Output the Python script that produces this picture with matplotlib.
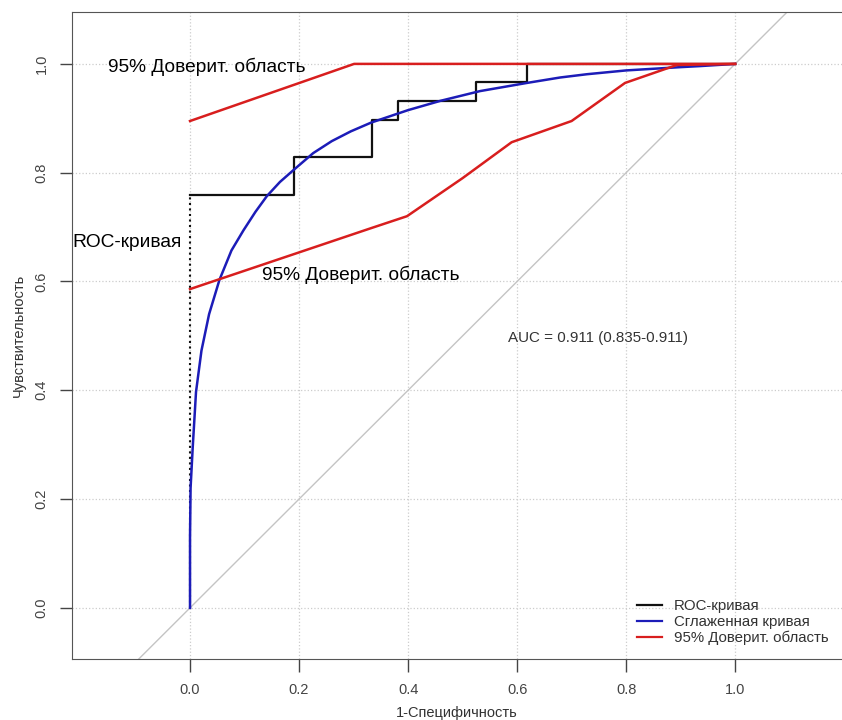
import matplotlib
matplotlib.use("Agg")
import matplotlib.pyplot as plt
from matplotlib.lines import Line2D

plt.rcParams['font.family'] = ['Liberation Sans', 'DejaVu Sans']

# ROC curve (empirical, step)
roc_fpr = [0.0, 0.0, 0.19, 0.19, 0.333, 0.333, 0.381, 0.381, 0.524, 0.524, 0.619, 0.619, 1.0]
roc_tpr = [0.0, 0.759, 0.759, 0.828, 0.828, 0.897, 0.897, 0.931, 0.931, 0.966, 0.966, 1.0, 1.0]

# smoothed curve
smooth_fpr = [0.0, 0.0, 0.001, 0.005, 0.011, 0.021, 0.035, 0.054, 0.076, 0.098, 0.12, 0.141,
              0.165, 0.19, 0.226, 0.26, 0.295, 0.332, 0.40, 0.459, 0.532, 0.618, 0.679,
              0.728, 0.80, 0.899, 0.936, 1.0]
smooth_tpr = [0.0, 0.13, 0.22, 0.296, 0.397, 0.473, 0.54, 0.603, 0.657, 0.694, 0.728, 0.757,
              0.783, 0.805, 0.836, 0.858, 0.876, 0.892, 0.915, 0.932, 0.950, 0.965, 0.975,
              0.981, 0.988, 0.994, 0.996, 1.0]

# 95% confidence band
ci_upper_fpr = [0.0, 0.301, 1.0]
ci_upper_tpr = [0.895, 1.0, 1.0]
ci_lower_fpr = [0.0, 0.332, 0.398, 0.50, 0.59, 0.70, 0.798, 0.893, 1.0]
ci_lower_tpr = [0.586, 0.698, 0.72, 0.79, 0.856, 0.895, 0.965, 0.998, 1.0]

ticks = [0.0, 0.2, 0.4, 0.6, 0.8, 1.0]
auc_text = "AUC = 0.911 (0.835-0.911)"
ci_label = "95% Доверит. область"

fig = plt.figure(figsize=(8.42, 7.2), dpi=100)
ax = fig.add_axes([72 / 842, 61 / 720, 1 - 72 / 842, 647 / 720])

ax.set_xlim(-0.2165, 1.196)
ax.set_ylim(-0.094, 1.0954)

ax.set_xticks(ticks)
ax.set_yticks(ticks)
ax.set_xticklabels([f"{t:.1f}" for t in ticks])
ax.set_yticklabels([f"{t:.1f}" for t in ticks], rotation=90, va="center")
ax.tick_params(colors="#444444", labelsize=10.5, length=9, width=1, pad=8)
ax.grid(True, color="#cccccc", linestyle=":", linewidth=0.9)
ax.set_axisbelow(True)
for side in ["left", "bottom", "top"]:
    ax.spines[side].set_color("#555555")
ax.spines["right"].set_visible(False)

ax.set_xlabel("1-Специфичность", color="#333333", fontsize=10.5, labelpad=7)
ax.set_ylabel("Чувствительность", color="#333333", fontsize=10.5, labelpad=6)

# diagonal
ax.plot([-0.3, 1.3], [-0.3, 1.3], color="#c4c4c4", linewidth=1)

black = "#111111"
blue = "#1c1cb8"
red = "#d81e1e"

ax.plot(roc_fpr[:2], roc_tpr[:2], color=black, linewidth=1.5, linestyle=":")
ax.plot(roc_fpr[1:], roc_tpr[1:], color=black, linewidth=1.6)
ax.plot(smooth_fpr, smooth_tpr, color=blue, linewidth=1.8)
ax.plot(ci_upper_fpr, ci_upper_tpr, color=red, linewidth=1.8)
ax.plot(ci_lower_fpr, ci_lower_tpr, color=red, linewidth=1.8)

ax.text(-0.150, 0.994, ci_label, fontsize=13.8, va="center", ha="left", color="black")
ax.text(-0.216, 0.672, "ROC-кривая", fontsize=13.8, va="center", ha="left", color="black")
ax.text(0.132, 0.613, ci_label, fontsize=13.8, va="center", ha="left", color="black")
ax.text(0.583, 0.497, auc_text, fontsize=10.9, va="center", ha="left", color="#333333")

handles = [Line2D([], [], color=black, linewidth=1.6),
           Line2D([], [], color=blue, linewidth=1.6),
           Line2D([], [], color=red, linewidth=1.6)]
ax.legend(handles, ["ROC-кривая", "Сглаженная кривая", ci_label],
          loc="lower left", bbox_to_anchor=(0.734, 0.022), frameon=False,
          fontsize=10.8, labelcolor="#333333", handlelength=1.67,
          handletextpad=0.8, labelspacing=0.1, borderpad=0, borderaxespad=0)

fig.savefig("out.png", dpi=100)
